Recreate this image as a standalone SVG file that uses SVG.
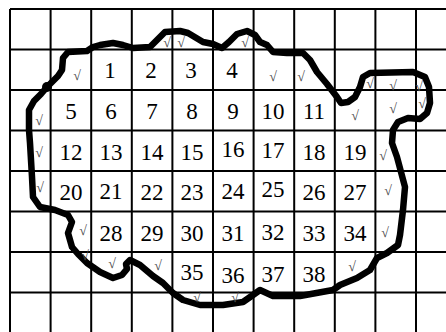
<svg xmlns="http://www.w3.org/2000/svg" width="446" height="332" viewBox="0 0 446 332">
<style>
.g{stroke:#000;stroke-width:2;fill:none}
.n{font-family:"Liberation Serif","Times New Roman",serif;font-size:23px;fill:#000;text-anchor:middle}
.c{font-family:"Liberation Serif","DejaVu Serif",serif;font-size:14px;fill:#4a4a4a;text-anchor:middle}
.b{stroke:#000;stroke-width:6.5;fill:none;stroke-linejoin:round;stroke-linecap:round}
</style>
<rect width="446" height="332" fill="#fff"/>
<g id="grid" class="g">
<path d="M10,9V332M50.6,9V332M91.2,9V332M131.8,9V332M172.4,9V332M213,9V332M253.6,9V332M294.2,9V332M334.8,9V332M375.4,9V332M416,9V332"/>
<path d="M10,9H446M10,49.5H446M10,90H446M10,130.5H446M10,171H446M10,211.5H446M10,252H446M10,292.5H446"/>
</g>
<g id="boundary">
<path class="b" d="M29,130 L29,110 L34,101 L41,94 L47,87 L52,82 L58,76 L62,70 L63,58 L68,52 L87,51 L93,47 L100,45 L113,43 L123,45 L133,48 L150,47 L160,37 L165,32 L180,31 L188,33 L203,42 L213,44 L222,48 L229,42 L237,34 L247,31 L255,35 L260,42 L267,45 L273,52 L287,53 L303,53 L310,60 L317,72 L327,84 L337,97 L341,103 L348,102 L355,97 L360,87 L363,77 L370,73 L413,72 L425,77 L429,87 L430,103 L427,113 L420,119 L408,118 L398,122 L393,130 L392,143 L397,157 L405,187 L403,210 L400,235 L398,245 L387,253 L377,258 L370,270 L357,278 L340,285 L333,290 L300,296 L273,296 L260,290 L253,295 L243,302 L223,305 L200,305 L183,300 L173,293 L163,283 L153,276 L140,265 L130,260 L126,264 L127,269 L122,275 L113,278 L100,272 L87,263 L78,254 L72,247 L68,233 L72,222 L68,215 L55,210 L40,207 L33,197 L32,177 L30,143 Z"/>
<circle cx="47" cy="87" r="5" fill="#000"/>
</g>
<g id="numbers" class="n">
<text x="110" y="78">1</text><text x="151" y="78">2</text><text x="191" y="78">3</text><text x="232" y="78">4</text>
<text x="71" y="119">5</text><text x="111" y="119">6</text><text x="152" y="119">7</text><text x="192" y="119">8</text><text x="233" y="119">9</text><text x="273" y="119">10</text><text x="314" y="119">11</text>
<text x="71" y="160">12</text><text x="111" y="160">13</text><text x="152" y="160">14</text><text x="192" y="160">15</text><text x="233" y="157">16</text><text x="273" y="158">17</text><text x="314" y="160">18</text><text x="355" y="160">19</text>
<text x="71" y="200">20</text><text x="111" y="199">21</text><text x="152" y="200">22</text><text x="192" y="200">23</text><text x="233" y="199">24</text><text x="273" y="197">25</text><text x="314" y="200">26</text><text x="355" y="200">27</text>
<text x="111" y="241">28</text><text x="152" y="241">29</text><text x="192" y="241">30</text><text x="233" y="241">31</text><text x="273" y="240">32</text><text x="314" y="241">33</text><text x="355" y="241">34</text>
<text x="192" y="280">35</text><text x="233" y="283">36</text><text x="273" y="282">37</text><text x="314" y="282">38</text>
</g>
<g id="checks" class="c">
<text x="77" y="80">√</text>
<text x="167" y="47">√</text><text x="181" y="47">√</text><text x="245" y="47">√</text>
<text x="273" y="81">√</text><text x="301" y="81">√</text>
<text x="370" y="88">√</text><text x="393" y="90">√</text><text x="419" y="91">√</text>
<text x="39" y="125">√</text><text x="355" y="120">√</text><text x="393" y="113">√</text><text x="422" y="108">√</text>
<text x="39" y="157">√</text><text x="383" y="160">√</text>
<text x="40" y="192">√</text><text x="388" y="195">√</text>
<text x="83" y="235">√</text><text x="385" y="237">√</text>
<text x="85" y="260">√</text><text x="112" y="268">√</text><text x="158" y="270">√</text><text x="352" y="271">√</text>
<text x="197" y="302">√</text><text x="235" y="302">√</text>
</g>
</svg>
